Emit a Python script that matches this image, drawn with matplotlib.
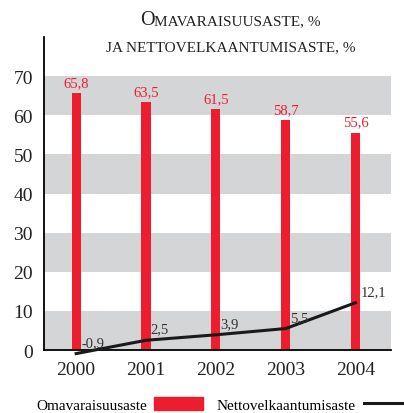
import matplotlib
matplotlib.use("Agg")
import matplotlib.pyplot as plt
from matplotlib.offsetbox import TextArea, HPacker, AnchoredOffsetbox
from matplotlib.patches import Patch
from matplotlib.lines import Line2D

years = ["2000", "2001", "2002", "2003", "2004"]
equity_ratio = [65.8, 63.5, 61.5, 58.7, 55.6]
net_gearing = [-0.9, 2.5, 3.9, 5.5, 12.1]
yticks = [0, 10, 20, 30, 40, 50, 60, 70]

RED = "#ed1c2e"
GRAY = "#d4d5d7"
FONT = "Liberation Serif"
plt.rcParams["font.family"] = [FONT, "DejaVu Serif"]

fig = plt.figure(figsize=(4.04, 4.14), dpi=100)
ax = fig.add_axes([0.109, 0.152, 0.859, 0.756])
x = list(range(len(years)))
ax.set_xlim(-0.46, 4.51)
ax.set_ylim(0, 80)

for lo in [0, 20, 40, 60]:
    ax.axhspan(lo, lo + 10, color=GRAY, lw=0, zorder=0)

ax.bar(x, equity_ratio, width=0.13, color=RED, zorder=2)
for xi, v in zip(x, equity_ratio):
    ax.text(xi, v + 1.0, f"{v:.1f}".replace(".", ","), ha="center", va="bottom",
            color=RED, fontsize=10.5)

ax.plot(x, net_gearing, color="#1a1a1a", lw=2.2, zorder=3, clip_on=False)
for xi, v in zip(x, net_gearing):
    ax.text(xi + 0.07, v + 1.2, f"{v:.1f}".replace(".", ","), ha="left", va="bottom",
            color="#333333", fontsize=10.5, zorder=4)

ax.set_yticks(yticks)
ax.set_yticklabels([str(t) for t in yticks], fontsize=14, color="#222222")
ax.set_xticks(x)
ax.set_xticklabels(years, fontsize=14, color="#222222")
ax.tick_params(length=0, pad=8)
for s in ["top", "right"]:
    ax.spines[s].set_visible(False)
ax.spines["left"].set_linewidth(1.3)
ax.spines["bottom"].set_linewidth(1.3)

# small-caps title
def smallcaps(parts, y):
    boxes = []
    for txt, size in parts:
        boxes.append(TextArea(txt, textprops=dict(fontsize=size, color="#222222", family=FONT)))
    hp = HPacker(children=boxes, align="baseline", pad=0, sep=0)
    ab = AnchoredOffsetbox(loc="center", child=hp, frameon=False,
                           bbox_to_anchor=(0.57, y), bbox_transform=fig.transFigure, pad=0, borderpad=0)
    fig.add_artist(ab)

smallcaps([("O", 14.5), ("MAVARAISUUSASTE, %", 11)], 0.95)
smallcaps([("JA NETTOVELKAANTUMISASTE, %", 11)], 0.886)

handles = [Patch(color=RED), Line2D([0], [0], color="#1a1a1a", lw=2.2)]
fig.legend(handles, ["Omavaraisuusaste", "Nettovelkaantumisaste"], loc="lower center",
           bbox_to_anchor=(0.555, -0.03), ncol=2, frameon=False, markerfirst=False,
           fontsize=11, handlelength=3.2, handleheight=1.0, columnspacing=0.9, handletextpad=0.5)

fig.savefig("out.png", dpi=100)
